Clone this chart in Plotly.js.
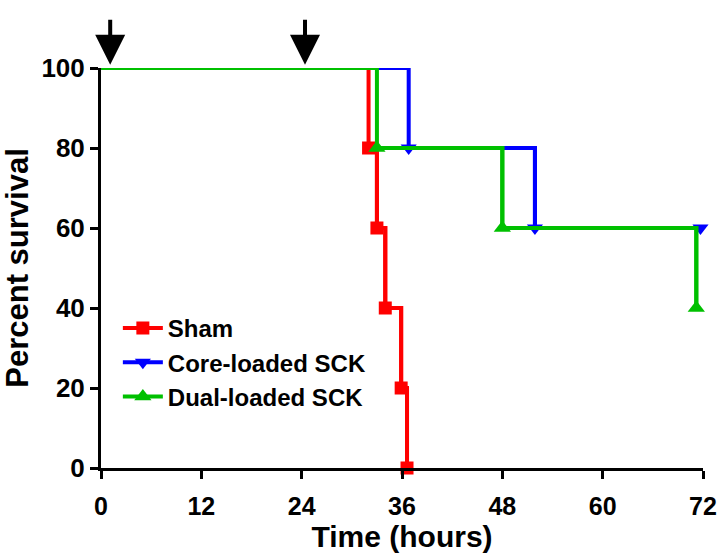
<!DOCTYPE html>
<html>
<head>
<meta charset="utf-8">
<script src="https://cdn.plot.ly/plotly-3.0.1.min.js"></script>
<style>html,body{margin:0;padding:0;background:#fff;}#chart{width:717px;height:554px;}</style>
</head>
<body>
<div id="chart"></div>
<script>
// Survival step data (time in hours, percent survival)
var seriesNames = ['Sham', 'Core-loaded SCK', 'Dual-loaded SCK'];
var shamTime = [0, 32, 33, 34, 35.9, 36.6];
var shamSurv = [100, 80, 60, 40, 20, 0];
var coreTime = [0, 36.8, 51.9, 71.7];
var coreSurv = [100, 80, 60, 60];
var dualTime = [0, 33, 48, 71.2];
var dualSurv = [100, 80, 60, 40];
var xTicks = [0, 12, 24, 36, 48, 60, 72];
var yTicks = [0, 20, 40, 60, 80, 100];
var arrowTimes = [1.1, 24.4];

var colors = ['#ff0000', '#0000ff', '#00c000'];
var symbols = ['square', 'triangle-down', 'triangle-up'];
var msizes = [13, 14, 15];
var times = [shamTime, coreTime, dualTime];
var survs = [shamSurv, coreSurv, dualSurv];

var traces = [];
for (var i = 0; i < 3; i++) {
  traces.push({
    x: times[i], y: survs[i], mode: 'lines', type: 'scatter',
    line: {color: colors[i], width: 4, shape: 'hv'},
    legendgroup: 'g' + i, showlegend: false, hoverinfo: 'skip', cliponaxis: false
  });
  traces.push({
    x: times[i].slice(1), y: survs[i].slice(1), mode: 'lines+markers', type: 'scatter',
    name: seriesNames[i],
    line: {color: colors[i], width: 4, shape: 'hv'},
    marker: {color: colors[i], symbol: symbols[i], size: msizes[i]},
    legendgroup: 'g' + i, cliponaxis: false
  });
}

var fontFam = 'Arial, "Liberation Sans", Helvetica, sans-serif';
var annotations = arrowTimes.map(function (t) {
  return {x: t, y: 1.008, xref: 'x', yref: 'paper', text: ' ', showarrow: true,
    ax: 0, ay: -55, arrowhead: 2, arrowsize: 1.5, arrowwidth: 4, arrowcolor: '#000'};
});

var layout = {
  width: 717, height: 554,
  margin: {l: 101, r: 14, t: 68, b: 86},
  paper_bgcolor: '#fff', plot_bgcolor: '#fff',
  showlegend: true,
  legend: {x: 0.028, y: 0.405, xanchor: 'left', yanchor: 'top', bgcolor: 'rgba(0,0,0,0)',
    font: {family: fontFam, size: 24, color: '#000', weight: 'bold'},
    traceorder: 'grouped', tracegroupgap: 0, itemwidth: 40},
  xaxis: {range: [0, 72], tickvals: xTicks, ticktext: xTicks.map(String),
    showgrid: false, zeroline: false, showline: true, linewidth: 3, linecolor: '#000',
    ticks: 'outside', ticklen: 8, tickwidth: 3, tickcolor: '#000', ticklabelstandoff: 6,
    ticklabeloverflow: 'allow',
    tickfont: {family: fontFam, size: 25, color: '#000', weight: 'bold'},
    title: {text: 'Time (hours)', font: {family: fontFam, size: 30, color: '#000', weight: 'bold'}, standoff: 4}},
  yaxis: {range: [0, 100], tickvals: yTicks, ticktext: yTicks.map(String),
    showgrid: false, zeroline: false, showline: true, linewidth: 3, linecolor: '#000',
    ticks: 'outside', ticklen: 8, tickwidth: 3, tickcolor: '#000',
    tickfont: {family: fontFam, size: 26, color: '#000', weight: 'bold'},
    title: {text: 'Percent survival', font: {family: fontFam, size: 31, color: '#000', weight: 'bold'}, standoff: 12}},
  annotations: annotations
};

Plotly.newPlot('chart', traces, layout, {displayModeBar: false, staticPlot: true});
</script>
</body>
</html>
